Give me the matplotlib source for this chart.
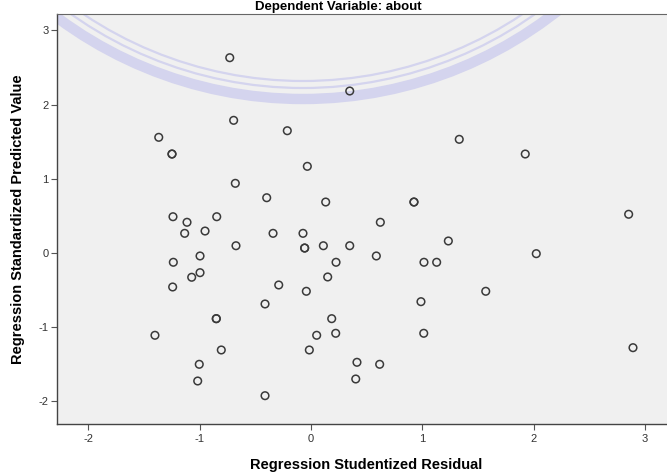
import matplotlib
matplotlib.use("Agg")
import matplotlib.pyplot as plt
from matplotlib.patches import Arc

# Regression Studentized Residual (x) and Regression Standardized Predicted Value (y)
resid = [-0.730, -0.695, -0.213, -1.368, -1.249, -1.249, -0.033, 0.348, 1.332, 1.925,
         -0.680, -0.398, -1.240, -1.114, -0.847, -1.135, -0.952, -0.341, -0.072, -0.674,
         -0.057, -0.057, -1.237, -0.997, -1.072, -0.997, -1.243, -0.290, -0.042, -0.413,
         0.132, 0.925, 0.925, 0.623, 0.111, 0.348, 1.234, 0.587, 0.225, 1.015,
         1.129, 0.150, 1.570, 0.988, 2.854, 2.024, -0.851, -0.851, -1.402, -0.806,
         -1.004, -1.018, -0.413, 0.051, -0.015, 0.186, 0.222, 1.013, 0.413, 0.617,
         0.402, 2.893]
pred = [2.632, 1.788, 1.648, 1.559, 1.334, 1.334, 1.168, 2.183, 1.532, 1.334,
        0.939, 0.745, 0.489, 0.414, 0.489, 0.265, 0.296, 0.265, 0.265, 0.098,
        0.067, 0.067, -0.125, -0.040, -0.327, -0.265, -0.458, -0.431, -0.516, -0.687,
        0.687, 0.687, 0.687, 0.414, 0.098, 0.098, 0.162, -0.040, -0.125, -0.125,
        -0.125, -0.323, -0.516, -0.656, 0.522, -0.009, -0.885, -0.885, -1.109, -1.307,
        -1.500, -1.725, -1.923, -1.109, -1.307, -0.885, -1.082, -1.082, -1.473, -1.500,
        -1.698, -1.276]

xticks = [-2, -1, 0, 1, 2, 3]
yticks = [-2, -1, 0, 1, 2, 3]

W, H = 667, 473
fig = plt.figure(figsize=(W / 100, H / 100), dpi=100)
fig.patch.set_facecolor("white")

# axes placement in pixels
L, R, T, B = 57, 676, 14, 424
ax = fig.add_axes([L / W, (H - B) / H, (R - L) / W, (B - T) / H])
ax.set_facecolor("#f0f0f0")

x0, sx = 311, 111.3
y0, sy = 253, 74.2
ax.set_xlim((L - x0) / sx, (R - x0) / sx)
ax.set_ylim((y0 - B) / sy, (y0 - T) / sy)

# faint watermark rings (background logo), in figure pixel space
wm = "#d4d4ee"
cx, cy = 303, -313
for r, lw in [(412, 7.5), (401, 1.6), (394, 1.6)]:
    arc = Arc((cx / W, (H - cy) / H), 2 * r / W, 2 * r / H, theta1=180, theta2=360,
              transform=fig.transFigure, color=wm, lw=lw, zorder=0.5)
    ax.add_artist(arc)

ax.scatter(resid, pred, s=30, facecolors="none", edgecolors="#3a3a3a",
           linewidths=1.1, zorder=3)

ax.set_xticks(xticks)
ax.set_yticks(yticks)
ax.set_xticklabels([str(t) for t in xticks])
ax.set_yticklabels([str(t) for t in yticks])
ax.tick_params(axis="both", direction="out", length=4, width=0.8, color="#555555",
               labelsize=8, labelcolor="#333333")
ax.tick_params(axis="x", pad=3)
ax.tick_params(axis="y", pad=2)

for side in ["top", "right"]:
    ax.spines[side].set_visible(True)
    ax.spines[side].set_color("#666666")
for side in ["left", "bottom"]:
    ax.spines[side].set_color("#444444")
    ax.spines[side].set_linewidth(1.0)

font = ["Liberation Sans", "DejaVu Sans"]
for lab in ax.get_xticklabels() + ax.get_yticklabels():
    lab.set_fontfamily(font)

ax.set_xlabel("Regression Studentized Residual", fontsize=10.5, fontweight="bold",
              family=font, labelpad=10)
ax.set_ylabel("Regression Standardized Predicted Value", fontsize=10.5,
              fontweight="bold", family=font, labelpad=10)

fig.text(338 / W, 1 - 1 / H, "Dependent Variable: about", ha="center", va="top",
         fontsize=9.5, fontweight="bold", family=font)

fig.savefig("out.png", dpi=100)
